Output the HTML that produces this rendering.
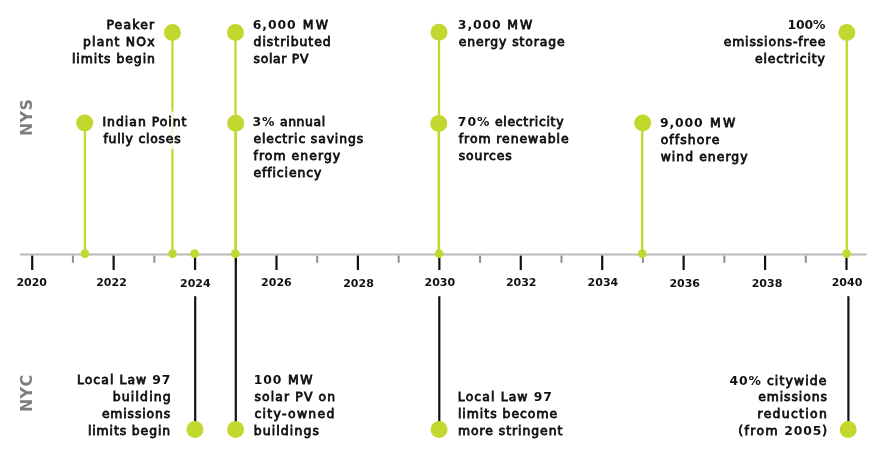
<!DOCTYPE html>
<html><head><meta charset="utf-8"><title>Timeline</title>
<style>
html,body{margin:0;padding:0;background:#fff;}
body{width:876px;height:453px;position:relative;overflow:hidden;}
svg{position:absolute;left:0;top:0;}
.wrap{position:absolute;left:0;top:0;width:876px;height:453px;will-change:transform;}
.t{position:absolute;font-family:'DejaVu Sans', sans-serif;font-weight:400;font-size:12.4px;line-height:16px;color:#111;white-space:nowrap;letter-spacing:0.9px;-webkit-text-stroke:0.8px #111;}
.d,.d0{font-weight:700;-webkit-text-stroke:0;}
.z{letter-spacing:0;}
.yr{position:absolute;width:60px;text-align:center;font-family:'DejaVu Sans', sans-serif;font-weight:700;font-size:11px;line-height:14px;color:#111;letter-spacing:0px;-webkit-text-stroke:0px #111;}
.lab{position:absolute;font-family:"DejaVu Sans",sans-serif;font-weight:700;font-size:15.9px;letter-spacing:0.3px;color:#7c7d80;transform:rotate(-90deg);transform-origin:0 0;white-space:nowrap;line-height:1;}
</style></head><body>
<svg width="876" height="453" viewBox="0 0 876 453">
<line x1="20" y1="254.6" x2="866.6" y2="254.6" stroke="#b9b9b9" stroke-width="2"/>
<line x1="32.20" y1="255.6" x2="32.20" y2="270" stroke="#111111" stroke-width="2.2"/>
<line x1="72.92" y1="255.6" x2="72.92" y2="262.8" stroke="#8e8e8e" stroke-width="2"/>
<line x1="113.63" y1="255.6" x2="113.63" y2="270" stroke="#111111" stroke-width="2.2"/>
<line x1="154.35" y1="255.6" x2="154.35" y2="262.8" stroke="#8e8e8e" stroke-width="2"/>
<line x1="195.06" y1="255.6" x2="195.06" y2="270" stroke="#111111" stroke-width="2.2"/>
<line x1="235.78" y1="255.6" x2="235.78" y2="262.8" stroke="#8e8e8e" stroke-width="2"/>
<line x1="276.49" y1="255.6" x2="276.49" y2="270" stroke="#111111" stroke-width="2.2"/>
<line x1="317.20" y1="255.6" x2="317.20" y2="262.8" stroke="#8e8e8e" stroke-width="2"/>
<line x1="357.92" y1="255.6" x2="357.92" y2="270" stroke="#111111" stroke-width="2.2"/>
<line x1="398.64" y1="255.6" x2="398.64" y2="262.8" stroke="#8e8e8e" stroke-width="2"/>
<line x1="439.35" y1="255.6" x2="439.35" y2="270" stroke="#111111" stroke-width="2.2"/>
<line x1="480.06" y1="255.6" x2="480.06" y2="262.8" stroke="#8e8e8e" stroke-width="2"/>
<line x1="520.78" y1="255.6" x2="520.78" y2="270" stroke="#111111" stroke-width="2.2"/>
<line x1="561.50" y1="255.6" x2="561.50" y2="262.8" stroke="#8e8e8e" stroke-width="2"/>
<line x1="602.21" y1="255.6" x2="602.21" y2="270" stroke="#111111" stroke-width="2.2"/>
<line x1="642.93" y1="255.6" x2="642.93" y2="262.8" stroke="#8e8e8e" stroke-width="2"/>
<line x1="683.64" y1="255.6" x2="683.64" y2="270" stroke="#111111" stroke-width="2.2"/>
<line x1="724.36" y1="255.6" x2="724.36" y2="262.8" stroke="#8e8e8e" stroke-width="2"/>
<line x1="765.07" y1="255.6" x2="765.07" y2="270" stroke="#111111" stroke-width="2.2"/>
<line x1="805.79" y1="255.6" x2="805.79" y2="262.8" stroke="#8e8e8e" stroke-width="2"/>
<line x1="846.50" y1="255.6" x2="846.50" y2="270" stroke="#111111" stroke-width="2.2"/>
<line x1="84.9" y1="123.0" x2="84.9" y2="254.6" stroke="#c2d82e" stroke-width="2.3"/>
<line x1="172.4" y1="32.4" x2="172.4" y2="254.6" stroke="#c2d82e" stroke-width="2.3"/>
<line x1="235.5" y1="32.5" x2="235.5" y2="254.6" stroke="#c2d82e" stroke-width="2.3"/>
<line x1="235.7" y1="123.3" x2="235.7" y2="254.6" stroke="#c2d82e" stroke-width="2.3"/>
<line x1="439.0" y1="32.3" x2="439.0" y2="254.6" stroke="#c2d82e" stroke-width="2.3"/>
<line x1="438.7" y1="123.5" x2="438.7" y2="254.6" stroke="#c2d82e" stroke-width="2.3"/>
<line x1="642.2" y1="123.0" x2="642.2" y2="254.6" stroke="#c2d82e" stroke-width="2.3"/>
<line x1="846.8" y1="32.5" x2="846.8" y2="254.6" stroke="#c2d82e" stroke-width="2.3"/>
<line x1="195.20" y1="296.2" x2="195.20" y2="429.5" stroke="#111111" stroke-width="2.2"/>
<line x1="235.80" y1="255.6" x2="235.80" y2="429.4" stroke="#111111" stroke-width="2.2"/>
<line x1="439.30" y1="296.2" x2="439.30" y2="429.5" stroke="#111111" stroke-width="2.2"/>
<line x1="848.40" y1="296.2" x2="848.40" y2="429.4" stroke="#111111" stroke-width="2.2"/>
<rect x="100" y="111.6" width="90" height="37.4" fill="#fff" fill-opacity="0.8"/>
<circle cx="84.9" cy="253.6" r="4.3" fill="#c2d82e"/>
<circle cx="172.5" cy="253.6" r="4.3" fill="#c2d82e"/>
<circle cx="194.6" cy="253.6" r="4.3" fill="#c2d82e"/>
<circle cx="235.3" cy="253.6" r="4.3" fill="#c2d82e"/>
<circle cx="439.0" cy="253.6" r="4.3" fill="#c2d82e"/>
<circle cx="642.2" cy="253.6" r="4.3" fill="#c2d82e"/>
<circle cx="846.6" cy="253.6" r="4.3" fill="#c2d82e"/>
<circle cx="84.7" cy="123.0" r="8.5" fill="#c2d82e"/>
<circle cx="172.4" cy="32.4" r="8.5" fill="#c2d82e"/>
<circle cx="235.5" cy="32.5" r="8.5" fill="#c2d82e"/>
<circle cx="235.7" cy="123.3" r="8.5" fill="#c2d82e"/>
<circle cx="439.0" cy="32.3" r="8.5" fill="#c2d82e"/>
<circle cx="438.7" cy="123.5" r="8.5" fill="#c2d82e"/>
<circle cx="642.7" cy="123.0" r="8.5" fill="#c2d82e"/>
<circle cx="846.8" cy="32.5" r="8.5" fill="#c2d82e"/>
<circle cx="195.0" cy="429.5" r="8.5" fill="#c2d82e"/>
<circle cx="235.6" cy="429.4" r="8.5" fill="#c2d82e"/>
<circle cx="439.1" cy="429.5" r="8.5" fill="#c2d82e"/>
<circle cx="848.2" cy="429.4" r="8.5" fill="#c2d82e"/>
</svg>
<div class="wrap">
<div class="t" style="left:106.40px;top:17px;letter-spacing:1.19px">Peake<span class="z">r</span></div>
<div class="t" style="left:83.04px;top:34px;letter-spacing:1.21px">plant NO<span class="z">x</span></div>
<div class="t" style="left:71.96px;top:51px;letter-spacing:0.97px">limits begi<span class="z">n</span></div>
<div class="t" style="left:252.77px;top:17px;letter-spacing:2.29px"><span class="d" style="letter-spacing:0.90px">6,000</span> M<span class="z">W</span></div>
<div class="t" style="left:253.60px;top:34px;letter-spacing:0.98px">distribute<span class="z">d</span></div>
<div class="t" style="left:253.60px;top:51px;letter-spacing:0.67px">solar P<span class="z">V</span></div>
<div class="t" style="left:102.47px;top:114px;letter-spacing:1.00px">Indian Poin<span class="z">t</span></div>
<div class="t" style="left:103.41px;top:131px;letter-spacing:0.77px">fully close<span class="z">s</span></div>
<div class="t" style="left:252.56px;top:114px;letter-spacing:0.61px"><span class="d" style="letter-spacing:0.90px">3%</span> annua<span class="z">l</span></div>
<div class="t" style="left:253.40px;top:131px;letter-spacing:0.87px">electric saving<span class="z">s</span></div>
<div class="t" style="left:253.51px;top:148px;letter-spacing:1.07px">from energ<span class="z">y</span></div>
<div class="t" style="left:253.40px;top:165px;letter-spacing:0.92px">efficienc<span class="z">y</span></div>
<div class="t" style="left:457.86px;top:17px;letter-spacing:1.85px"><span class="d" style="letter-spacing:0.90px">3,000</span> M<span class="z">W</span></div>
<div class="t" style="left:458.70px;top:34px;letter-spacing:0.91px">energy storag<span class="z">e</span></div>
<div class="t" style="left:457.86px;top:114px;letter-spacing:0.73px"><span class="d" style="letter-spacing:0.90px">70%</span> electricit<span class="z">y</span></div>
<div class="t" style="left:458.81px;top:131px;letter-spacing:0.95px">from renewabl<span class="z">e</span></div>
<div class="t" style="left:458.70px;top:148px;letter-spacing:0.89px">source<span class="z">s</span></div>
<div class="t" style="left:659.94px;top:115px;letter-spacing:2.33px"><span class="d" style="letter-spacing:0.90px">9,000</span> M<span class="z">W</span></div>
<div class="t" style="left:660.70px;top:132px;letter-spacing:1.10px">offshor<span class="z">e</span></div>
<div class="t" style="left:660.70px;top:149px;letter-spacing:1.05px">wind energ<span class="z">y</span></div>
<div class="t" style="left:787.56px;top:17px;letter-spacing:0.00px"><span class="d" style="letter-spacing:-0.11px">100</span><span class="z d0">%</span></div>
<div class="t" style="left:723.67px;top:34px;letter-spacing:0.88px">emissions-fre<span class="z">e</span></div>
<div class="t" style="left:754.91px;top:51px;letter-spacing:0.86px">electricit<span class="z">y</span></div>
<div class="t" style="left:76.90px;top:372px;letter-spacing:1.08px">Local Law <span class="d" style="letter-spacing:0.90px">9</span><span class="z d0">7</span></div>
<div class="t" style="left:112.77px;top:389px;letter-spacing:1.18px">buildin<span class="z">g</span></div>
<div class="t" style="left:101.90px;top:406px;letter-spacing:0.86px">emission<span class="z">s</span></div>
<div class="t" style="left:87.90px;top:423px;letter-spacing:0.90px">limits begi<span class="z">n</span></div>
<div class="t" style="left:253.80px;top:372px;letter-spacing:1.66px"><span class="d" style="letter-spacing:0.90px">100</span> M<span class="z">W</span></div>
<div class="t" style="left:254.40px;top:389px;letter-spacing:1.13px">solar PV o<span class="z">n</span></div>
<div class="t" style="left:254.40px;top:406px;letter-spacing:1.33px">city-owne<span class="z">d</span></div>
<div class="t" style="left:253.65px;top:423px;letter-spacing:1.15px">building<span class="z">s</span></div>
<div class="t" style="left:457.87px;top:389px;letter-spacing:1.12px">Local Law <span class="d" style="letter-spacing:0.90px">9</span><span class="z d0">7</span></div>
<div class="t" style="left:457.92px;top:406px;letter-spacing:1.00px">limits becom<span class="z">e</span></div>
<div class="t" style="left:457.95px;top:423px;letter-spacing:0.96px">more stringen<span class="z">t</span></div>
<div class="t" style="left:729.50px;top:373px;letter-spacing:1.13px"><span class="d" style="letter-spacing:0.90px">40%</span> citywid<span class="z">e</span></div>
<div class="t" style="left:758.15px;top:389px;letter-spacing:0.92px">emission<span class="z">s</span></div>
<div class="t" style="left:757.50px;top:406px;letter-spacing:1.32px">reductio<span class="z">n</span></div>
<div class="t" style="left:738.37px;top:423px;letter-spacing:1.36px">(from <span class="d" style="letter-spacing:0.90px">2005</span><span class="z">)</span></div>
<div class="yr" style="left:1.70px;top:276.19px">2020</div>
<div class="yr" style="left:81.50px;top:276.19px">2022</div>
<div class="yr" style="left:165.35px;top:277.19px">2024</div>
<div class="yr" style="left:246.40px;top:276.19px">2026</div>
<div class="yr" style="left:328.50px;top:277.19px">2028</div>
<div class="yr" style="left:409.80px;top:275.89px">2030</div>
<div class="yr" style="left:491.20px;top:276.19px">2032</div>
<div class="yr" style="left:572.90px;top:276.19px">2034</div>
<div class="yr" style="left:654.70px;top:277.19px">2036</div>
<div class="yr" style="left:737.00px;top:277.19px">2038</div>
<div class="yr" style="left:817.00px;top:276.19px">2040</div>
</div>
<div class="lab" style="left:18.7px;top:135.5px">NY<span style="letter-spacing:0">S</span></div>
<div class="lab" style="left:18.7px;top:411.5px">NY<span style="letter-spacing:0">C</span></div>
</body></html>
